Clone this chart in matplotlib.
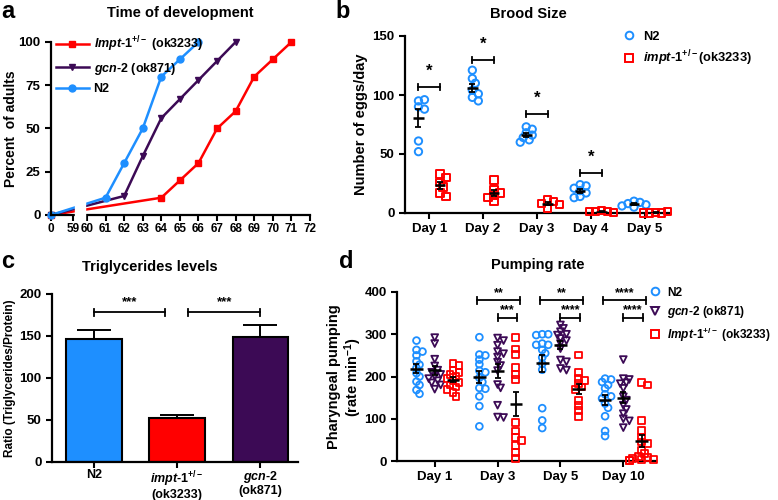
import numpy as np
import matplotlib
matplotlib.use("Agg")
import matplotlib.pyplot as plt
from matplotlib.lines import Line2D

plt.rcParams['font.family'] = ['Liberation Sans', 'DejaVu Sans']
plt.rcParams['font.weight'] = 'bold'
plt.rcParams['axes.labelweight'] = 'bold'
plt.rcParams['mathtext.fontset'] = 'custom'
plt.rcParams['mathtext.it'] = 'Liberation Sans:italic:bold'
plt.rcParams['mathtext.rm'] = 'Liberation Sans:bold'
plt.rcParams['mathtext.bf'] = 'Liberation Sans:bold'
plt.rcParams['mathtext.sf'] = 'Liberation Sans:bold'

BLUE = '#1E8FFF'
RED = '#FF0000'
PURPLE = '#3C0A55'

# --- a: time of development (hours vs % adults)
hours_n2 = [0, 61, 62, 63, 64, 65, 66]
adults_n2 = [0, 10, 30, 50, 80, 90, 100]
hours_gcn = [0, 62, 63, 64, 65, 66, 67, 68]
adults_gcn = [0, 11, 34, 56, 67, 78, 89, 100]
hours_impt = [0, 64, 65, 66, 67, 68, 69, 70, 71]
adults_impt = [0, 10, 20, 30, 50, 60, 80, 90, 100]
hour_ticks = [0, 59] + list(range(60, 73))

# --- b: brood size (eggs/day)
brood_days = ['Day 1', 'Day 2', 'Day 3', 'Day 4', 'Day 5']
brood_n2 = [[95, 96, 90, 88, 61, 52],
            [121, 114, 110, 104, 101, 98, 95],
            [73, 71, 68, 66, 64, 62, 60],
            [24, 23, 21, 19, 17, 14, 13],
            [10, 9, 8, 7, 6, 5]]
brood_impt = [[33, 30, 26, 22, 17, 14],
              [28, 20, 17, 15, 13, 10],
              [11, 10, 8, 7, 4],
              [2, 1.5, 1, 0.5, 1],
              [0.5, 0, 0, 1, 0]]
brood_sig_y = [107, 130, 84, 34]

# --- c: triglycerides
tg_labels = ['N2', '$\\mathit{impt}$-$\\mathit{1}^{+/-}$\n(ok3233)', '$\\mathit{gcn}$-$\\mathit{2}$\n(ok871)']
tg_mean = [147, 52, 149]
tg_sem = [10, 4, 14]

# --- d: pumping rate
pump_days = ['Day 1', 'Day 3', 'Day 5', 'Day 10']
pump_n2 = [[285, 263, 259, 250, 236, 228, 220, 208, 200, 188, 180, 168, 159],
           [293, 252, 250, 240, 229, 214, 210, 197, 187, 173, 171, 153, 130, 82],
           [300, 300, 298, 278, 275, 275, 263, 255, 245, 230, 216, 125, 96, 78],
           [195, 193, 187, 180, 172, 158, 153, 148, 136, 126, 106, 71, 59]]
pump_gcn = [[292, 278, 241, 225, 215, 210, 205, 200, 195, 190, 185, 180, 170],
            [291, 285, 274, 259, 254, 246, 234, 226, 214, 181, 173, 132, 104, 103],
            [322, 314, 306, 300, 298, 290, 285, 278, 266, 239, 235, 219, 215],
            [240, 195, 193, 185, 183, 172, 152, 144, 132, 122, 112, 100, 95, 79]]
pump_impt = [[230, 226, 215, 210, 205, 200, 195, 190, 185, 180, 175, 170, 162, 152],
             [293, 265, 253, 222, 205, 192, 91, 71, 55, 48, 36, 20, 6],
             [251, 209, 195, 191, 183, 175, 169, 144, 132, 119, 106],
             [185, 180, 95, 72, 57, 45, 41, 25, 17, 11, 8, 6, 4, 3, 2, 1]]
pump_sig_top = ['**', '**', '****']
pump_sig_low = ['***', '****', '****']


def swarm(vals, px_x, px_y, size, step):
    # spread overlapping points sideways (pixel based)
    placed, out = [], []
    for v in vals:
        y = v * px_y
        for k in (0, 1, -1, 2, -2, 3, -3, 4, -4):
            x = k * step
            if all(np.hypot(x - a, y - b) >= size for a, b in placed):
                break
        placed.append((x, y))
        out.append(x / px_x)
    return np.array(out)


def mean_sem(ax, x, vals, half=0.1, cap=2.5):
    vals = np.asarray(vals, float)
    m = vals.mean()
    s = vals.std(ddof=1) / np.sqrt(len(vals))
    ax.errorbar([x], [m], yerr=[s], fmt='none', ecolor='black', elinewidth=1.3,
                capsize=cap, capthick=1.3, zorder=5)
    ax.hlines(m, x - half, x + half, color='black', lw=1.8, zorder=5)


def bracket(ax, x1, x2, y, h, txt, ty, fs=9):
    ax.plot([x1, x2], [y, y], color='black', lw=1.3, clip_on=False)
    ax.plot([x1, x1], [y - h, y + h], color='black', lw=1.3, clip_on=False)
    ax.plot([x2, x2], [y - h, y + h], color='black', lw=1.3, clip_on=False)
    ax.text((x1 + x2) / 2, ty, txt, ha='center', va='center', fontsize=fs, fontweight='bold')


def style(ax):
    for s in ['top', 'right']:
        ax.spines[s].set_visible(False)
    for s in ['left', 'bottom']:
        ax.spines[s].set_linewidth(1.6)
    ax.tick_params(width=1.5, length=4, labelsize=9.5)


fig = plt.figure(figsize=(7.78, 5.0), dpi=100)
W, H = 778, 500


def box(l, r, t, b):
    return [l / W, 1 - b / H, (r - l) / W, (b - t) / H]


# ---------------- a
ax = fig.add_axes(box(51, 310, 42, 215))


def fwd(x):
    x = np.asarray(x, float)
    return np.where(x <= 59, x * 22 / 59, np.where(x <= 60, 22 + (x - 59) * 14, 36 + (x - 60) * 18.6))


def inv(t):
    t = np.asarray(t, float)
    return np.where(t <= 22, t * 59 / 22, np.where(t <= 36, 59 + (t - 22) / 14, 60 + (t - 36) / 18.6))


ax.set_xscale('function', functions=(fwd, inv))
ax.plot(hours_impt, adults_impt, color=RED, marker='s', ms=5, lw=1.8, clip_on=False,
        label='$\\mathit{Impt}$-$\\mathit{1}^{+/-}$ (ok3233)')
ax.plot(hours_gcn, adults_gcn, color=PURPLE, marker='v', ms=5, lw=1.8, clip_on=False,
        label='$\\mathit{gcn}$-$\\mathit{2}$ (ok871)')
ax.plot(hours_n2, adults_n2, color=BLUE, marker='o', ms=5, lw=1.8, clip_on=False, label='N2')
# axis break between 59 and 60
ax.axvspan(59.12, 59.88, ymin=-0.035, ymax=1, color='white', zorder=6, clip_on=False)
ax.set_xlim(0, 72)
ax.set_ylim(0, 100)
ax.set_xticks(hour_ticks)
ax.set_xticklabels([str(h) for h in hour_ticks])
ax.set_yticks([0, 25, 50, 75, 100])
ax.set_ylabel('Percent  of adults', fontsize=10)
ax.yaxis.set_label_coords(-0.128, 0.5)
style(ax)
ax.tick_params(axis='x', labelsize=8.5, pad=2)
ax.minorticks_off()
leg = ax.legend(loc='upper left', bbox_to_anchor=(0.0, 1.07), frameon=False, fontsize=9,
                handlelength=2.6, handletextpad=0.4, labelspacing=0.5, borderaxespad=0)
leg.set_zorder(8)

# ---------------- b
ax = fig.add_axes(box(405, 669, 36, 213))
for i in range(len(brood_days)):
    xc = i + 1
    v = brood_n2[i]
    ax.scatter(xc - 0.2 + swarm(v, 54, 1.18, 5, 3), v, s=28, facecolors='none',
               edgecolors=BLUE, linewidths=1.4, zorder=3, clip_on=False)
    mean_sem(ax, xc - 0.2, v)
    v = brood_impt[i]
    ax.scatter(xc + 0.2 + swarm(v, 54, 1.18, 5, 3), v, s=28, marker='s', facecolors='none',
               edgecolors=RED, linewidths=1.4, zorder=3, clip_on=False)
    mean_sem(ax, xc + 0.2, v)
for i, y in enumerate(brood_sig_y):
    bracket(ax, i + 0.8, i + 1.2, y, 2.5, '*', y + 13, fs=12)
ax.set_xlim(0.55, 5.45)
ax.set_ylim(0, 150)
ax.set_xticks(range(1, 6))
ax.set_xticklabels(brood_days)
ax.set_yticks([0, 50, 100, 150])
ax.set_ylabel('Number of eggs/day', fontsize=10.5)
ax.yaxis.set_label_coords(-0.14, 0.5)
style(ax)
hb = [Line2D([], [], ls='none', marker='o', mfc='none', mec=BLUE, mew=1.4, ms=5.5),
      Line2D([], [], ls='none', marker='s', mfc='none', mec=RED, mew=1.4, ms=5.5)]
ax.legend(hb, ['N2', '$\\mathit{impt}$-$\\mathit{1}^{+/-}$(ok3233)'], loc='upper left',
          bbox_to_anchor=(0.8, 1.06), frameon=False, fontsize=9.3, handlelength=1.2,
          handletextpad=0.5, labelspacing=0.45, borderaxespad=0)

# ---------------- c
ax = fig.add_axes(box(52, 298, 294, 462))
xs = np.arange(3)
ax.bar(xs, tg_mean, width=0.67, color=[BLUE, RED, PURPLE], edgecolor='black', linewidth=1.5, zorder=2)
ax.errorbar(xs, tg_mean, yerr=[np.zeros(3), tg_sem], fmt='none', ecolor='black',
            elinewidth=1.4, capsize=12, capthick=1.4, zorder=1)
bracket(ax, 0.0, 0.85, 178, 4.5, '***', 190, fs=9.5)
bracket(ax, 1.13, 2.0, 178, 4.5, '***', 190, fs=9.5)
ax.set_xlim(-0.5, 2.45)
ax.set_ylim(0, 200)
ax.set_xticks(xs)
ax.set_xticklabels(tg_labels, linespacing=1.0)
ax.set_yticks([0, 50, 100, 150, 200])
ax.set_ylabel('Ratio (Triglycerides/Protein)', fontsize=8.5)
ax.yaxis.set_label_coords(-0.145, 0.5)
style(ax)
ax.tick_params(axis='x', labelsize=9, pad=1)

# ---------------- d
ax = fig.add_axes(box(397, 656, 292, 461))
off = 0.29
for i in range(len(pump_days)):
    for d, dx, mk, col in ((pump_n2, -off, 'o', BLUE), (pump_gcn, 0, 'v', PURPLE), (pump_impt, off, 's', RED)):
        v = d[i]
        ax.scatter(i + dx + swarm(v, 63, 0.4217, 4.5, 3), v, s=24, marker=mk, facecolors='none',
                   edgecolors=col, linewidths=1.3, zorder=3, clip_on=False)
        mean_sem(ax, i + dx, v, half=0.1, cap=2.5)
for i in range(1, 4):
    bracket(ax, i - 0.32, i + 0.36, 380, 8, pump_sig_top[i - 1], 398, fs=9)
    bracket(ax, i + 0.0, i + 0.31, 339, 8, pump_sig_low[i - 1], 357, fs=9)
ax.set_xlim(-0.6, 3.52)
ax.set_ylim(0, 400)
ax.set_xticks(range(4))
ax.set_xticklabels(pump_days)
ax.set_yticks([0, 100, 200, 300, 400])
ax.set_ylabel('Pharyngeal pumping\n(rate min$^{-1}$)', fontsize=10.5, linespacing=1.1)
ax.yaxis.set_label_coords(-0.128, 0.5)
style(ax)
hd = [Line2D([], [], ls='none', marker='o', mfc='none', mec=BLUE, mew=1.4, ms=5.5),
      Line2D([], [], ls='none', marker='v', mfc='none', mec=PURPLE, mew=1.4, ms=5.5),
      Line2D([], [], ls='none', marker='s', mfc='none', mec=RED, mew=1.4, ms=5.5)]
ax.legend(hd, ['N2', '$\\mathit{gcn}$-$\\mathit{2}$ (ok871)', '$\\mathit{Impt}$-$\\mathit{1}^{+/-}$ (ok3233)'],
          loc='upper left', bbox_to_anchor=(0.955, 1.06), frameon=False, fontsize=8.6,
          handlelength=1.0, handletextpad=0.5, labelspacing=0.45, borderaxespad=0)

# titles and panel letters
fig.text(180 / W, 1 - 13 / H, 'Time of development', ha='center', va='center', fontsize=10.5)
fig.text(528 / W, 1 - 14 / H, 'Brood Size', ha='center', va='center', fontsize=10.5)
fig.text(150 / W, 1 - 267 / H, 'Triglycerides levels', ha='center', va='center', fontsize=10.5)
fig.text(538 / W, 1 - 265 / H, 'Pumping rate', ha='center', va='center', fontsize=10.5)
for lt, x, y in (('a', 8, 12), ('b', 343, 12), ('c', 8, 262), ('d', 346, 262)):
    fig.text(x / W, 1 - y / H, lt, ha='center', va='center', fontsize=17)

fig.savefig('out.png', dpi=100)
